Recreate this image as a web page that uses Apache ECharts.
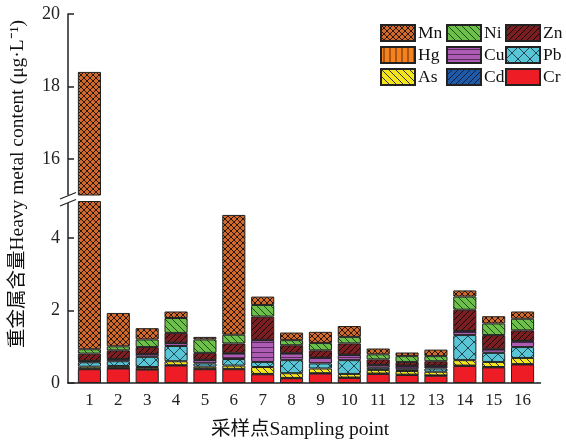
<!DOCTYPE html>
<html><head><meta charset="utf-8">
<script src="https://cdn.jsdelivr.net/npm/echarts@6/dist/echarts.min.js"></script>
<style>html,body{margin:0;padding:0;background:#fff}#c{width:566px;height:445px}</style>
</head><body><div id="c"></div>
<script>
// ---- data ----
const categories = ['1','2','3','4','5','6','7','8','9','10','11','12','13','14','15','16'];
const seriesNames = ['Cr','Cd','As','Pb','Cu','Hg','Zn','Ni','Mn'];
const Cr = [0.38,0.40,0.37,0.48,0.38,0.38,0.24,0.13,0.26,0.14,0.25,0.22,0.20,0.47,0.43,0.51];
const Cd = [0.01,0.01,0.01,0.01,0.01,0.01,0.01,0.01,0.01,0.01,0.01,0.01,0.01,0.01,0.01,0.01];
const As = [0.06,0.06,0.06,0.11,0.06,0.09,0.19,0.13,0.13,0.10,0.10,0.10,0.10,0.15,0.14,0.17];
const Pb = [0.12,0.13,0.28,0.42,0.09,0.18,0.14,0.36,0.14,0.38,0.06,0.05,0.09,0.69,0.25,0.30];
const Cu = [0.03,0.05,0.07,0.08,0.09,0.15,0.60,0.18,0.15,0.14,0.07,0.09,0.07,0.10,0.09,0.16];
const Hg = [0.01,0.01,0.01,0.01,0.01,0.01,0.01,0.01,0.01,0.01,0.01,0.01,0.01,0.01,0.01,0.01];
const Zn = [0.20,0.24,0.19,0.27,0.19,0.27,0.64,0.22,0.20,0.31,0.15,0.10,0.12,0.59,0.39,0.29];
const Ni = [0.12,0.11,0.21,0.41,0.37,0.24,0.32,0.14,0.20,0.18,0.14,0.16,0.14,0.36,0.32,0.32];
const Mn = [17.47,0.92,0.31,0.18,0.07,3.30,0.23,0.21,0.31,0.30,0.16,0.10,0.18,0.17,0.20,0.20];
const lowerTicks = [0,2,4];
const upperTicks = [16,18,20];
const seriesData = {Cr,Cd,As,Pb,Cu,Hg,Zn,Ni,Mn};

// ---- patterns ----
function pat(size, bg, line, lw, kinds){
  const c = document.createElement('canvas'); c.width = size; c.height = size;
  const g = c.getContext('2d');
  g.fillStyle = bg; g.fillRect(0,0,size,size);
  g.strokeStyle = line; g.lineWidth = lw; g.beginPath();
  kinds.forEach(k=>{
    for (let o=-size; o<=size; o+=size){
      if (k==='/'){ g.moveTo(o,size); g.lineTo(o+size,0); }
      if (k==='\\'){ g.moveTo(o,0); g.lineTo(o+size,size); }
    }
    if (k==='|'){ g.moveTo(size/2,0); g.lineTo(size/2,size); }
    if (k==='-'){ g.moveTo(0,size/2); g.lineTo(size,size/2); }
  });
  g.stroke();
  return {image:c, repeat:'repeat'};
}
const fills = {
  Mn: pat(6,'#cf6a2c','#2e1607',1,['/','\\']),
  Ni: pat(7,'#6cbf48','#1f4a12',1,['\\']),
  Zn: pat(6,'#7a1e22','#160404',1,['/']),
  Hg: pat(6,'#f5821f','#5a2a05',1,['|']),
  Cu: pat(5,'#ad5cb3','#5a2a5e',1,['-']),
  Pb: pat(12,'#58c6d6','#1a3a40',0.9,['/','\\']),
  As: pat(7,'#f3e41e','#333',1,['\\']),
  Cd: pat(6,'#1e5aa8','#0a1e40',1,['/']),
  Cr: '#ee1c25'
};

const serif = '"Liberation Serif","Times New Roman","Noto Sans CJK SC",serif';
const series = [];
[0,1].forEach(gi=>{
  seriesNames.forEach(n=>{
    series.push({
      name:n, type:'bar', stack:'s'+gi, xAxisIndex:gi, yAxisIndex:gi,
      data: seriesData[n], barWidth:'80%', clip:true, silent:true,
      itemStyle:{color:fills[n], borderColor:'#222', borderWidth:1}
    });
  });
});

const legText = {fontFamily:serif, fontSize:17.5, color:'#111', lineHeight:16, padding:[0,0,0,-2]};
function leg(left, data, z){
  return {orient:'vertical', left:left, top:24, padding:0, itemWidth:34, itemHeight:16, itemGap:4,
    selectedMode:false, icon:'rect', textStyle:legText, data:data, z:z};
}

const chart = echarts.init(document.getElementById('c'), null, {renderer:'canvas'});
chart.setOption({
  animation:false,
  backgroundColor:'#fff',
  legend:[leg(380,['Mn','Hg','As'],6), leg(446,['Ni','Cu','Cd'],5), leg(505,['Zn','Pb','Cr'],4)],
  grid:[
    {left:75, top:14, width:462, height:181},
    {left:75, top:201.5, width:462, height:181.5}
  ],
  xAxis:[
    {type:'category', gridIndex:0, data:categories, show:false},
    {type:'category', gridIndex:1, data:categories,
      axisLine:{lineStyle:{color:'#222', width:1.5}}, axisTick:{show:false},
      axisLabel:{fontFamily:serif, fontSize:17, color:'#222', margin:9}}
  ],
  yAxis:[
    {type:'value', gridIndex:0, min:15, max:20, offset:7, splitLine:{show:false},
      axisLine:{show:true, lineStyle:{color:'#222', width:1.5}},
      axisTick:{show:true, inside:true, length:6, customValues:upperTicks, lineStyle:{color:'#222', width:1.5}},
      axisLabel:{customValues:upperTicks, fontFamily:serif, fontSize:18, color:'#222', margin:8}},
    {type:'value', gridIndex:1, min:0, max:5, offset:7, splitLine:{show:false},
      axisLine:{show:true, lineStyle:{color:'#222', width:1.5}},
      axisTick:{show:true, inside:true, length:6, customValues:lowerTicks, lineStyle:{color:'#222', width:1.5}},
      axisLabel:{customValues:lowerTicks, fontFamily:serif, fontSize:18, color:'#222', margin:8}}
  ],
  graphic:[
    {type:'line', shape:{x1:67.5, y1:383, x2:75, y2:383}, style:{stroke:'#222', lineWidth:1.5}},
    {type:'line', shape:{x1:537, y1:383, x2:541, y2:383}, style:{stroke:'#222', lineWidth:1.5}},
    {type:'rect', shape:{x:64, y:195, width:8, height:8}, style:{fill:'#fff'}, z:100},
    {type:'line', shape:{x1:60, y1:199, x2:76, y2:192.5}, style:{stroke:'#222', lineWidth:1.3}, z:101},
    {type:'line', shape:{x1:60, y1:206, x2:76, y2:199.5}, style:{stroke:'#222', lineWidth:1.3}, z:101},
    {type:'text', x:18, y:184, rotation:Math.PI/2, z:101,
      style:{text:'重金属含量Heavy metal content (μg·L⁻¹)', font:'19.5px ' + serif, fill:'#111',
        textAlign:'center', textVerticalAlign:'middle'}},
    {type:'text', x:300, y:430, z:101,
      style:{text:'采样点Sampling point', font:'19.5px ' + serif, fill:'#111',
        textAlign:'center', textVerticalAlign:'middle'}}
  ],
  series: series
});
</script>
</body></html>
